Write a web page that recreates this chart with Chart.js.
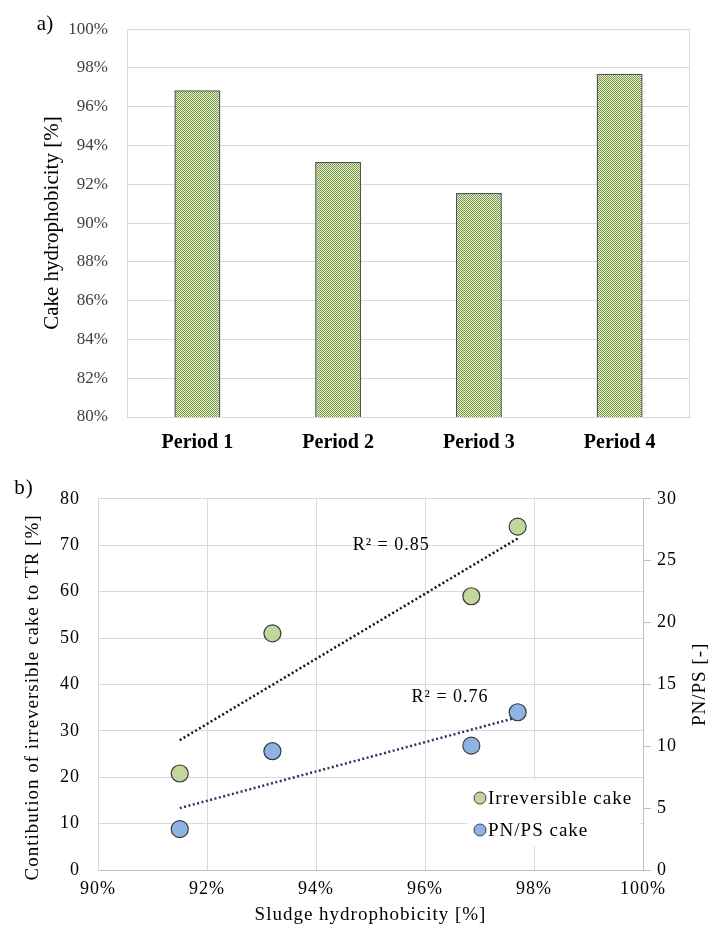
<!DOCTYPE html>
<html>
<head>
<meta charset="utf-8">
<script src="https://cdn.jsdelivr.net/npm/chart.js@4.4.0/dist/chart.umd.min.js"></script>
<style>
  html, body { margin: 0; padding: 0; background: #fff; }
  #wrap { position: relative; width: 709px; height: 937px; }
  #top { position: absolute; left: 0; top: 0; width: 709px; height: 470px; }
  #bottom { position: absolute; left: 0; top: 470px; width: 709px; height: 467px; }
</style>
</head>
<body>
<div id="wrap">
  <div id="top"><canvas id="cakeChart"></canvas></div>
  <div id="bottom"><canvas id="sludgeChart"></canvas></div>
</div>
<script>
// ---- a) cake hydrophobicity per period ----
const periods = ['Period 1', 'Period 2', 'Period 3', 'Period 4'];
const cakeHydrophobicity = [96.85, 93.15, 91.55, 97.7];
const cakeAxisTicks = [80, 82, 84, 86, 88, 90, 92, 94, 96, 98, 100];

// ---- b) irreversible cake contribution and PN/PS vs sludge hydrophobicity ----
const sludgeHydrophobicity = [96.85, 93.2, 91.5, 97.7];
const irreversibleContribution = [59, 51, 20.8, 74];
const pnpsCake = [10.05, 9.6, 3.3, 12.75];
const sludgeAxisTicks = [90, 92, 94, 96, 98, 100];
const contributionAxisTicks = [0, 10, 20, 30, 40, 50, 60, 70, 80];
const pnpsAxisTicks = [0, 5, 10, 15, 20, 25, 30];
const seriesNames = ['Irreversible cake', 'PN/PS cake'];
const rSquaredLabels = ['R\u00B2 = 0.85', 'R\u00B2 = 0.76'];
const leftTitle = 'Contibution of irreversible cake to TR [%]';
const rightTitle = 'PN/PS [-]';

const SERIF = "'Liberation Serif', 'Times New Roman', serif";
const GREEN = '#c3d69b';
const BLUE = '#8eb4e3';

// least-squares straight line through the points, drawn between min and max x
function linearFit(xs, ys) {
  const n = xs.length;
  const mx = xs.reduce((a, b) => a + b, 0) / n;
  const my = ys.reduce((a, b) => a + b, 0) / n;
  let sxy = 0, sxx = 0;
  for (let i = 0; i < n; i++) { sxy += (xs[i] - mx) * (ys[i] - my); sxx += (xs[i] - mx) ** 2; }
  const slope = sxy / sxx;
  const x0 = Math.min(...xs), x1 = Math.max(...xs);
  return [{ x: x0, y: my + slope * (x0 - mx) }, { x: x1, y: my + slope * (x1 - mx) }];
}

// fine green/white checkerboard fill for the bars
function checkerPattern(ctx) {
  const tile = document.createElement('canvas');
  tile.width = 2; tile.height = 2;
  const g = tile.getContext('2d');
  g.fillStyle = '#eef4e2'; g.fillRect(0, 0, 2, 2);
  g.fillStyle = '#6f9535'; g.fillRect(0, 0, 1, 1); g.fillRect(1, 1, 1, 1);
  return ctx.createPattern(tile, 'repeat');
}

const tickList = (arr) => function (scale) { scale.ticks = arr.map(v => ({ value: v })); };

// ---------- chart a ----------
const cakeCanvas = document.getElementById('cakeChart');
const framePlugin = {
  id: 'frame',
  afterDraw(chart) {
    const { ctx, chartArea: a } = chart;
    ctx.save();
    ctx.strokeStyle = '#d9d9d9';
    ctx.lineWidth = 1;
    ctx.strokeRect(a.left + 0.5, a.top + 0.5, a.right - a.left - 1, a.bottom - a.top);
    ctx.fillStyle = '#000';
    ctx.font = '21px ' + SERIF;
    ctx.textAlign = 'center';
    ctx.textBaseline = 'middle';
    ctx.fillText('a)', 45, 24);
    ctx.restore();
  }
};

new Chart(cakeCanvas, {
  type: 'bar',
  data: {
    labels: periods,
    datasets: [{
      data: cakeHydrophobicity,
      backgroundColor: checkerPattern(cakeCanvas.getContext('2d')),
      borderColor: '#555555',
      borderWidth: 1.5,
      barPercentage: 0.327,
      categoryPercentage: 1
    }]
  },
  options: {
    responsive: true,
    maintainAspectRatio: false,
    animation: false,
    layout: { padding: { top: 28, right: 19, left: 0, bottom: 0 } },
    plugins: { legend: { display: false }, tooltip: { enabled: false } },
    scales: {
      x: {
        grid: { display: false, drawTicks: false },
        border: { color: '#d9d9d9' },
        ticks: { font: { family: SERIF, size: 20, weight: 'bold' }, color: '#000', padding: 14 },
        afterFit(s) { s.height = 53; }
      },
      y: {
        min: 80, max: 100,
        afterBuildTicks: tickList(cakeAxisTicks),
        ticks: { callback: v => v + '%', font: { family: SERIF, size: 17 }, color: '#404040', padding: 19 },
        grid: { color: '#d9d9d9', drawTicks: false },
        border: { color: '#d9d9d9' },
        title: { display: true, text: 'Cake hydrophobicity [%]', font: { family: SERIF, size: 21 }, color: '#000', padding: { top: 40, bottom: 0 } },
        afterFit(s) { s.width = 127; }
      }
    }
  },
  plugins: [framePlugin]
});

// ---------- chart b ----------
const spacingPlugin = {
  id: 'spacing',
  beforeDraw(chart) { chart.ctx.letterSpacing = '1px'; },
  afterDraw(chart) { chart.ctx.letterSpacing = '0px'; }
};

function rotatedText(ctx, text, x, y, size) {
  ctx.save();
  ctx.translate(x, y);
  ctx.rotate(-Math.PI / 2);
  ctx.fillStyle = '#000';
  ctx.font = size + 'px ' + SERIF;
  ctx.letterSpacing = '1px';
  ctx.textAlign = 'center';
  ctx.textBaseline = 'middle';
  ctx.fillText(text, 0, 0);
  ctx.restore();
}

const annotatePlugin = {
  id: 'annotate',
  afterDatasetsDraw(chart) {
    const { ctx, chartArea: a, scales } = chart;
    ctx.save();
    ctx.fillStyle = '#000';
    ctx.textAlign = 'center';
    ctx.textBaseline = 'middle';
    ctx.font = '18px ' + SERIF;
    ctx.fillText(rSquaredLabels[0], scales.x.getPixelForValue(95.38), scales.y.getPixelForValue(70));
    ctx.fillText(rSquaredLabels[1], scales.x.getPixelForValue(96.46), scales.y2.getPixelForValue(13.96));

    // legend box inside the plot area
    ctx.fillStyle = '#ffffff';
    ctx.fillRect(a.right - 176, a.bottom - 90, 173, 66);
    const colors = [GREEN, BLUE];
    const rows = [a.bottom - 72, a.bottom - 40];
    ctx.textAlign = 'left';
    ctx.font = '19px ' + SERIF;
    for (let i = 0; i < 2; i++) {
      ctx.beginPath();
      ctx.arc(a.right - 163, rows[i], 6, 0, Math.PI * 2);
      ctx.fillStyle = colors[i];
      ctx.fill();
      ctx.lineWidth = 1;
      ctx.strokeStyle = '#3f3f3f';
      ctx.stroke();
      ctx.fillStyle = '#000';
      ctx.fillText(seriesNames[i], a.right - 155, rows[i] + 1);
    }
    ctx.font = '21px ' + SERIF;
    ctx.textAlign = 'center';
    ctx.fillText('b)', 24, 18);
    ctx.restore();
  },
  afterDraw(chart) {
    const { ctx, chartArea: a } = chart;
    // axis titles, both reading upwards
    rotatedText(ctx, leftTitle, 33, (a.top + a.bottom) / 2 + 13, 19);
    rotatedText(ctx, rightTitle, 700, (a.top + a.bottom) / 2, 19);
  }
};

const toPoints = (xs, ys) => xs.map((x, i) => ({ x, y: ys[i] }));

new Chart(document.getElementById('sludgeChart'), {
  type: 'scatter',
  data: {
    datasets: [
      {
        label: seriesNames[0],
        data: toPoints(sludgeHydrophobicity, irreversibleContribution),
        yAxisID: 'y',
        pointRadius: 8.5,
        pointBackgroundColor: GREEN,
        pointBorderColor: '#3a3a3a',
        pointBorderWidth: 1.2,
        order: 1
      },
      {
        label: seriesNames[1],
        data: toPoints(sludgeHydrophobicity, pnpsCake),
        yAxisID: 'y2',
        pointRadius: 8.5,
        pointBackgroundColor: BLUE,
        pointBorderColor: '#3a3a3a',
        pointBorderWidth: 1.2,
        order: 1
      },
      {
        type: 'line',
        data: linearFit(sludgeHydrophobicity, irreversibleContribution),
        yAxisID: 'y',
        borderColor: '#111111',
        borderWidth: 2.5,
        borderDash: [2, 2.5],
        pointRadius: 0,
        fill: false,
        order: 2
      },
      {
        type: 'line',
        data: linearFit(sludgeHydrophobicity, pnpsCake),
        yAxisID: 'y2',
        borderColor: '#1f3864',
        borderWidth: 2.5,
        borderDash: [2, 2.5],
        pointRadius: 0,
        fill: false,
        order: 2
      }
    ]
  },
  options: {
    responsive: true,
    maintainAspectRatio: false,
    animation: false,
    layout: { padding: { top: 22, right: 0, left: 0, bottom: 0 } },
    plugins: { legend: { display: false }, tooltip: { enabled: false } },
    scales: {
      x: {
        type: 'linear', min: 90, max: 100,
        afterBuildTicks: tickList(sludgeAxisTicks),
        ticks: { callback: v => v + '%', font: { family: SERIF, size: 18 }, color: '#000', padding: 8 },
        grid: { color: '#d9d9d9', drawTicks: false },
        border: { color: '#bfbfbf' },
        title: { display: true, text: 'Sludge hydrophobicity [%]', font: { family: SERIF, size: 19 }, color: '#000', padding: { top: 0, bottom: 11 } },
        afterFit(s) { s.height = 67; }
      },
      y: {
        position: 'left', min: 0, max: 80,
        afterBuildTicks: tickList(contributionAxisTicks),
        ticks: { font: { family: SERIF, size: 18 }, color: '#000', padding: 18 },
        grid: { color: '#d9d9d9', drawTicks: false },
        border: { color: '#d9d9d9' },
        afterFit(s) { s.width = 98; }
      },
      y2: {
        position: 'right', min: 0, max: 30,
        afterBuildTicks: tickList(pnpsAxisTicks),
        ticks: { font: { family: SERIF, size: 18 }, color: '#000', padding: 6 },
        grid: { drawOnChartArea: false, drawTicks: true, tickLength: 8, color: '#bfbfbf' },
        border: { color: '#bfbfbf' },
        afterFit(s) { s.width = 66; }
      }
    }
  },
  plugins: [spacingPlugin, annotatePlugin]
});
</script>
</body>
</html>
